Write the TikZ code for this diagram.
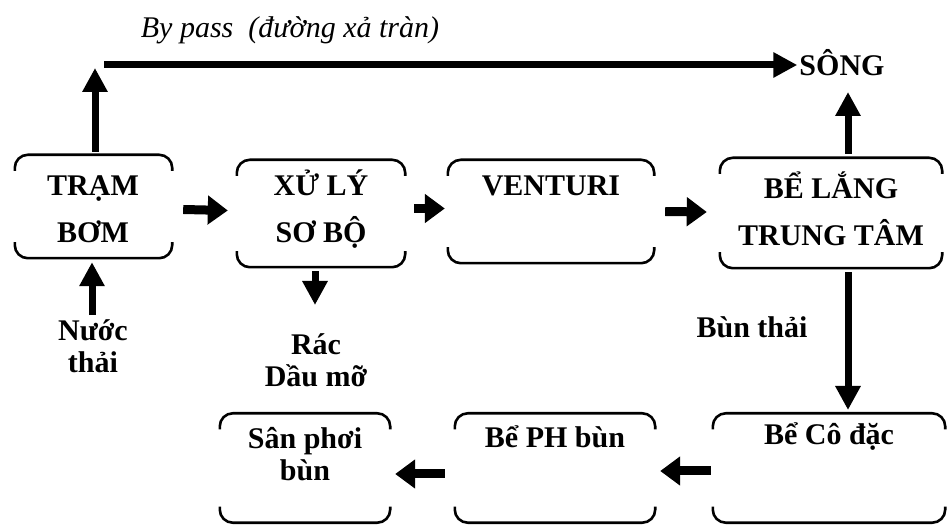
\documentclass[tikz,border=0pt]{standalone}
\usepackage{fontspec}
\setmainfont{Liberation Serif}
\usetikzlibrary{arrows.meta}
\newcommand\bracketbox[1]{%
  \draw[brk] ([yshift=-16pt]#1.north west) -- (#1.north west) -- (#1.north east) -- ([yshift=-16pt]#1.north east);
  \draw[brk] ([yshift=16pt]#1.south west) -- (#1.south west) -- (#1.south east) -- ([yshift=16pt]#1.south east);}
\tikzset{
  brk/.style={line width=2.6pt, rounded corners=13pt},
  boxn/.style={rectangle, inner sep=0pt, minimum width=#1},
  txt/.style={font=\bfseries\fontsize{30}{47}\selectfont, align=center, inner sep=0pt},
  tight/.style={font=\bfseries\fontsize{30}{32}\selectfont},
  bigarrow/.style={line width=7pt, -{Triangle[length=24pt,width=24pt]}},
  shortarrow/.style={line width=9pt, -{Triangle[length=20pt,width=28pt]}},
}
\begin{document}
\begin{tikzpicture}[x=1pt,y=-1pt]
\useasboundingbox[fill=white] (0,0) rectangle (951,526);
% boxes
\node[boxn=157, minimum height=103] (tram) at (93.5,206.5) {};
\node[boxn=168, minimum height=107] (xuly) at (321,213.5) {};
\node[boxn=206, minimum height=103] (venturi) at (551,211.5) {};
\node[boxn=222, minimum height=110] (belang) at (831,213) {};
\node[boxn=170, minimum height=109] (san) at (305,468) {};
\node[boxn=200, minimum height=109] (beph) at (555,468) {};
\node[boxn=232, minimum height=109] (beco) at (829,468) {};
\foreach \b in {tram,xuly,venturi,belang,san,beph,beco} {\bracketbox{\b}}
% texts
\node[txt] (tram-t) at (93,209) {TRẠM\\BƠM};
\node[txt] (xuly-t) at (321,209) {XỬ LÝ\\SƠ BỘ};
\node[txt] (venturi-t) at (551,186) {VENTURI};
\node[txt] (belang-t) at (831,209) {BỂ LẮNG\\TRUNG TÂM};
\node[txt, tight] (san-t) at (305,454) {Sân phơi\\bùn};
\node[txt] (beph-t) at (555,437) {Bể PH bùn};
\node[txt] (beco-t) at (829,437) {Bể Cô đặc};
\node[txt] (song) at (842,63) {SÔNG};
\node[txt, tight] (nuoc) at (93,346) {Nước\\thải};
\node[txt, tight] (rac) at (316,360) {Rác\\Dầu mỡ};
\node[txt] (bun) at (752,327) {Bùn thải};
\node[font=\itshape\fontsize{30}{34}\selectfont, inner sep=0pt] (bypass) at (290,30) {By pass \ (đường xả tràn)};
% connectors
\coordinate (bpup) at (95,68);
\coordinate (bpstart) at (104,65);
\draw[bigarrow] ([xshift=1.5pt,yshift=3pt]tram.north) -- (bpup);
\draw[bigarrow] (bpstart) -- ([xshift=-2pt]song.west |- bpstart);
\draw[bigarrow] ([xshift=17pt,yshift=4pt]belang.north) -- ([xshift=17pt]belang.north |- 0,92);
\draw[bigarrow] ([yshift=-4pt]belang.south -| 848,0) -- (848,410);
\draw[bigarrow] ([yshift=-4pt]xuly.south -| 315,0) -- (315,305);
\draw[bigarrow] ([yshift=4pt]nuoc.north -| 92,0) -- ([yshift=-4pt]tram.south -| 92,0);
\draw[shortarrow] ([xshift=11pt,yshift=-3pt]tram.east) -- ([xshift=-9pt,yshift=3pt]xuly.west);
\draw[shortarrow] ([xshift=9pt,yshift=5pt]xuly.east) -- ([xshift=-3pt,yshift=3pt]venturi.west);
\draw[shortarrow] ([xshift=11pt]venturi.east) -- ([xshift=-13pt,yshift=1pt]belang.west);
\draw[shortarrow] ([xshift=-2pt,yshift=-3pt]beco.west) -- ([xshift=5pt,yshift=-3pt]beph.east);
\draw[shortarrow] ([xshift=-10pt,yshift=-6pt]beph.west) -- ([xshift=5pt,yshift=-6pt]san.east);
\end{tikzpicture}
\end{document}
